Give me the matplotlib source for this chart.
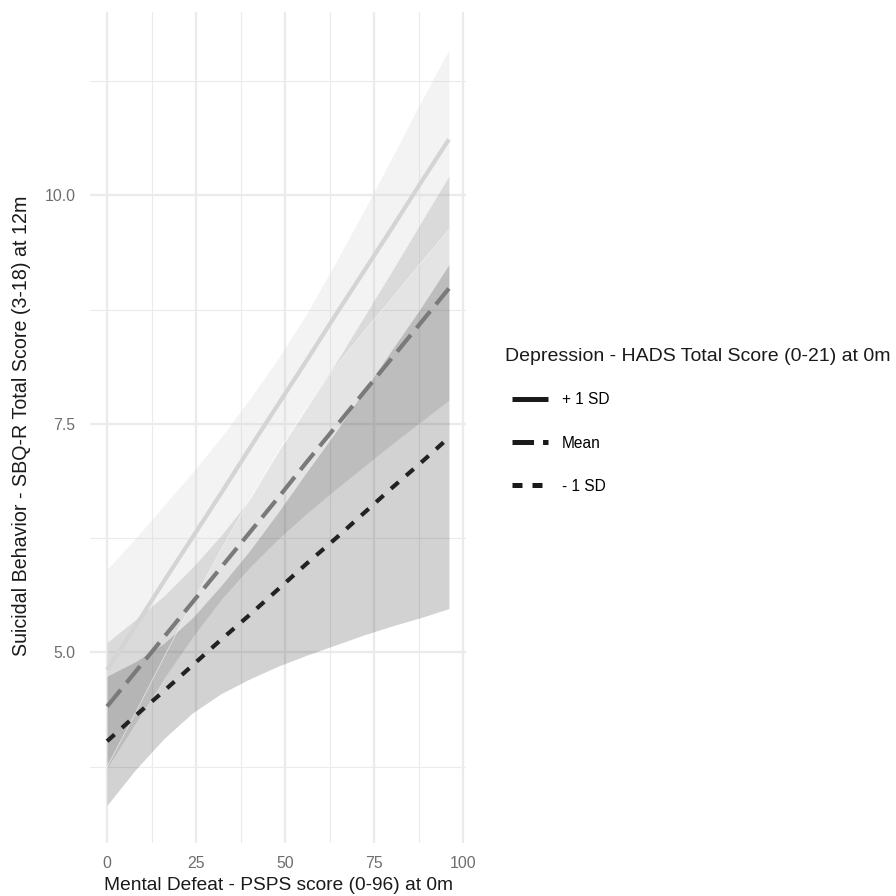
import matplotlib
matplotlib.use("Agg")
import matplotlib.pyplot as plt
from matplotlib.lines import Line2D

plt.rcParams['font.family'] = ['Liberation Sans', 'DejaVu Sans']
plt.rcParams['lines.scale_dashes'] = False

# ---- data ----
defeat = [0, 8, 16, 24, 32, 40, 48, 56, 64, 72, 80, 88, 96]

plus_fit = [4.81, 5.29, 5.78, 6.26, 6.74, 7.23, 7.71, 8.19, 8.68, 9.16, 9.64, 10.13, 10.61]
plus_lo = [3.75, 4.34, 4.95, 5.55, 6.12, 6.67, 7.19, 7.67, 8.11, 8.50, 8.87, 9.25, 9.62]
plus_hi = [5.91, 6.25, 6.61, 6.97, 7.35, 7.77, 8.21, 8.70, 9.25, 9.82, 10.41, 11.01, 11.59]

mean_fit = [4.41, 4.79, 5.17, 5.55, 5.93, 6.31, 6.69, 7.08, 7.46, 7.84, 8.22, 8.60, 8.98]
mean_lo = [3.74, 4.23, 4.72, 5.17, 5.58, 5.93, 6.24, 6.52, 6.78, 7.03, 7.28, 7.52, 7.76]
mean_hi = [5.11, 5.36, 5.62, 5.93, 6.28, 6.67, 7.19, 7.67, 8.15, 8.66, 9.17, 9.69, 10.21]

minus_fit = [4.03, 4.31, 4.58, 4.86, 5.14, 5.41, 5.69, 5.97, 6.24, 6.52, 6.80, 7.07, 7.35]
minus_lo = [3.33, 3.72, 4.06, 4.34, 4.55, 4.71, 4.85, 4.97, 5.08, 5.19, 5.29, 5.38, 5.48]
minus_hi = [4.74, 4.90, 5.10, 5.38, 5.73, 6.11, 6.53, 6.97, 7.40, 7.85, 8.31, 8.76, 9.24]

group_labels = ["+ 1 SD", "Mean", "- 1 SD"]
x_ticks = [0, 25, 50, 75, 100]
y_ticks = [5.0, 7.5, 10.0]
x_title = "Mental Defeat - PSPS score (0-96) at 0m"
y_title = "Suicidal Behavior - SBQ-R Total Score (3-18) at 12m"
legend_title = "Depression - HADS Total Score (0-21) at 0m"

# ---- style ----
fill_cols = {"+ 1 SD": "#cccccc", "Mean": "#858585", "- 1 SD": "#333333"}
line_cols = {"+ 1 SD": "#d4d4d4", "Mean": "#7a7a7a", "- 1 SD": "#222222"}
dash_pat = {"+ 1 SD": None, "Mean": (15.5, 6.5), "- 1 SD": (7.2, 7.2)}
LW = 3.0
ALPHA = 0.22

fig = plt.figure(figsize=(8.96, 8.96), dpi=100)
ax = fig.add_axes([90/896, 53/896, 376/896, 831/896])

series = [
    ("+ 1 SD", plus_fit, plus_lo, plus_hi),
    ("Mean", mean_fit, mean_lo, mean_hi),
    ("- 1 SD", minus_fit, minus_lo, minus_hi),
]

for name, fit, lo, hi in series:
    ax.fill_between(defeat, lo, hi, color=fill_cols[name], alpha=ALPHA, lw=0, zorder=2)

# faint light seam along the lower edge of the +1 SD band (as in the reference)
ax.plot(defeat, plus_lo, color='white', lw=0.7, alpha=0.55, zorder=2.5)

handles = []
for name, fit, lo, hi in series:
    ln, = ax.plot(defeat, fit, color=line_cols[name], lw=LW, solid_capstyle='butt',
                  dash_capstyle='butt', zorder=3)
    if dash_pat[name] is not None:
        ln.set_dashes(dash_pat[name])
    h = Line2D([], [], color="#1a1a1a", lw=LW + 0.6, solid_capstyle='butt', dash_capstyle='butt')
    if dash_pat[name] is not None:
        h.set_dashes(dash_pat[name])
    handles.append(h)

ax.set_xlim(-4.8, 100.8)
ax.set_ylim(2.917, 12.003)
ax.set_xticks(x_ticks)
ax.set_xticks([12.5, 37.5, 62.5, 87.5], minor=True)
ax.set_yticks(y_ticks)
ax.set_yticklabels([f"{v:.1f}" for v in y_ticks])
ax.set_yticks([3.75, 6.25, 8.75, 11.25], minor=True)
ax.grid(which='major', color='#ebebeb', lw=1.6, zorder=0)
ax.grid(which='minor', color='#ebebeb', lw=0.8, zorder=0)
ax.set_axisbelow(True)
for s in ax.spines.values():
    s.set_visible(False)
ax.tick_params(which='both', length=0)
ax.tick_params(axis='x', labelsize=11.4, labelcolor='#6e6e6e', pad=9)
ax.tick_params(axis='y', labelsize=11.4, labelcolor='#6e6e6e', pad=10.5)

fig.text((90 + 466) / 2 / 896, 1 - 885/896, x_title, ha='center', va='center',
         fontsize=13.8, color='#1a1a1a')
fig.text(22/896, 1 - 426/896, y_title, ha='center', va='center', rotation=90,
         fontsize=14.1, color='#1a1a1a')

fig.text(505/896, 1 - 356/896, legend_title, ha='left', va='center',
         fontsize=14.0, color='#1a1a1a')
leg = fig.legend(handles, group_labels, loc='center left',
                 bbox_to_anchor=(512/896, 1 - 443/896), frameon=False,
                 fontsize=11.2, handlelength=2.31, handletextpad=0.9,
                 labelspacing=1.81, borderaxespad=0, borderpad=0)

fig.savefig("out.png", dpi=100)
